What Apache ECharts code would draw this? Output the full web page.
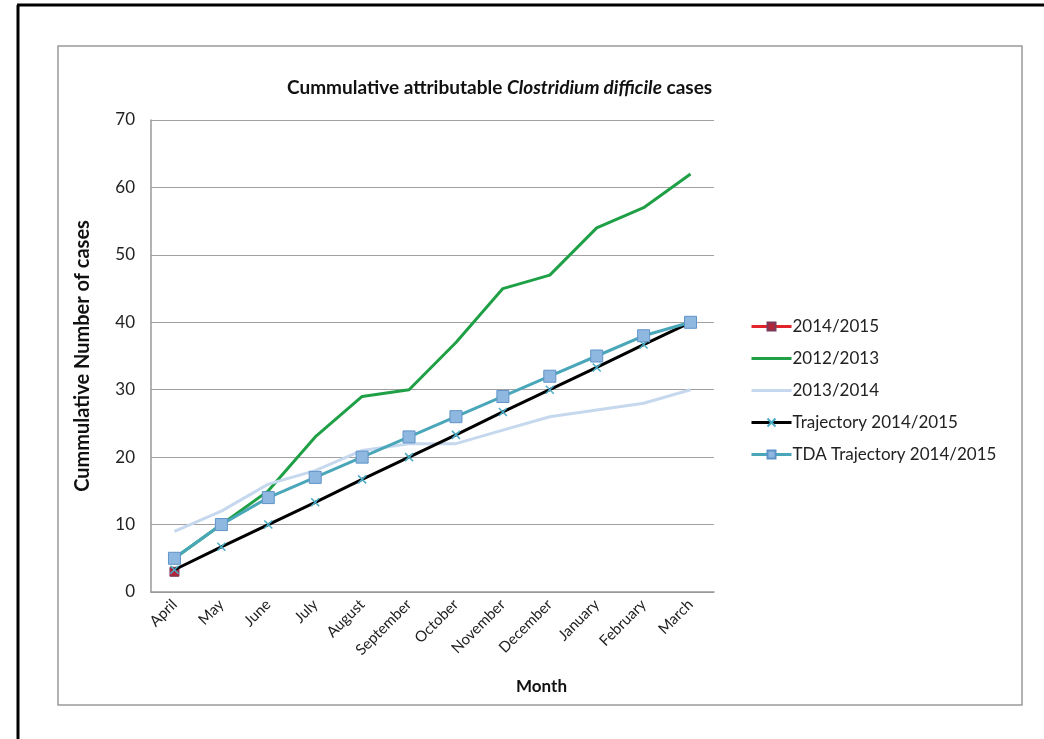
<!DOCTYPE html>
<html>
<head>
<meta charset="utf-8">
<title>Cummulative attributable Clostridium difficile cases</title>
<script src="https://cdn.jsdelivr.net/npm/echarts@6/dist/echarts.min.js"></script>
<style>
  html, body { margin: 0; padding: 0; background: #ffffff; }
  #chart { width: 1044px; height: 739px; }
</style>
</head>
<body>
<div id="chart"></div>
<script>
// Financial-year months
const months = ['April', 'May', 'June', 'July', 'August', 'September', 'October',
  'November', 'December', 'January', 'February', 'March'];

// Cumulative case counts per series
const cases2014_15 = [3, null, null, null, null, null, null, null, null, null, null, null];
const cases2012_13 = [5, 10, 15, 23, 29, 30, 37, 45, 47, 54, 57, 62];
const cases2013_14 = [9, 12, 16, 18, 21, 22, 22, 24, 26, 27, 28, 30];
const trajectory2014_15 = [3.3, 6.7, 10, 13.3, 16.7, 20, 23.3, 26.7, 30, 33.3, 36.7, 40];
const tdaTrajectory2014_15 = [5, 10, 14, 17, 20, 23, 26, 29, 32, 35, 38, 40];

// Value axis ticks
const yMin = 0, yMax = 70, yStep = 10;

const FONT = 'Lato, "Liberation Sans", sans-serif';
const chart = echarts.init(document.getElementById('chart'), null, { renderer: 'canvas' });

chart.setOption({
  backgroundColor: '#ffffff',
  animation: false,
  textStyle: { fontFamily: FONT },
  graphic: [
    // outer page frame
    { type: 'line', shape: { x1: 18, y1: 5, x2: 18, y2: 739 }, style: { stroke: '#000', lineWidth: 3 } },
    { type: 'line', shape: { x1: 17, y1: 5, x2: 1044, y2: 5 }, style: { stroke: '#000', lineWidth: 3 } },
    // chart area frame
    { type: 'rect', shape: { x: 58, y: 46, width: 964, height: 659 },
      style: { fill: 'none', stroke: '#9a9a9a', lineWidth: 1.5 } }
  ],
  title: {
    text: '{b|Cummulative attributable }{i|Clostridium difficile}{b| cases}',
    left: 282,
    top: 73,
    textStyle: {
      rich: {
        b: { fontFamily: FONT, fontSize: 19, fontWeight: 'bold', color: '#111' },
        i: { fontFamily: FONT, fontSize: 19, fontWeight: 'bold', fontStyle: 'italic', color: '#111' }
      }
    }
  },
  grid: { left: 151, right: 330, top: 120, bottom: 147, containLabel: false },
  legend: {
    orient: 'vertical',
    left: 745,
    top: 313,
    itemWidth: 40,
    itemHeight: 10,
    itemGap: 15,
    lineStyle: { width: 3 },
    textStyle: { fontFamily: FONT, fontSize: 17, color: '#222', padding: [0, 0, 0, -4] },
    data: [
      { name: '2014/2015' },
      { name: '2012/2013', itemStyle: { opacity: 0 } },
      { name: '2013/2014', itemStyle: { opacity: 0 } },
      { name: 'Trajectory 2014/2015' },
      { name: 'TDA Trajectory 2014/2015' }
    ]
  },
  xAxis: {
    type: 'category',
    data: months,
    boundaryGap: true,
    name: 'Month',
    nameLocation: 'middle',
    nameGap: 86,
    nameTextStyle: { fontFamily: FONT, fontSize: 17, fontWeight: 'bold', color: '#111', padding: [0, 0, 0, 218] },
    axisLine: { show: true, lineStyle: { color: '#999', width: 1.5 } },
    axisTick: { show: false },
    axisLabel: { rotate: 45, fontSize: 15, color: '#222', margin: 10, interval: 0 },
    splitLine: { show: false }
  },
  yAxis: {
    type: 'value',
    min: yMin,
    max: yMax,
    interval: yStep,
    name: 'Cummulative Number of cases',
    nameLocation: 'middle',
    nameGap: 58,
    nameTextStyle: { fontFamily: FONT, fontSize: 20, fontWeight: 'bold', color: '#111' },
    axisLine: { show: true, lineStyle: { color: '#999', width: 1.5 } },
    axisTick: { show: false },
    axisLabel: { fontSize: 17, color: '#222', margin: 16 },
    splitLine: { show: true, lineStyle: { color: '#a0a0a0', width: 1.2 } }
  },
  series: [
    {
      name: '2014/2015',
      type: 'line',
      data: cases2014_15,
      symbol: 'rect',
      symbolSize: 9,
      showAllSymbol: true,
      lineStyle: { color: '#e3232c', width: 3 },
      itemStyle: { color: '#b3243a', borderColor: '#7a3a5a', borderWidth: 1 },
      z: 2
    },
    {
      name: '2012/2013',
      type: 'line',
      data: cases2012_13,
      symbol: 'none',
      lineStyle: { color: '#20a046', width: 3 },
      itemStyle: { color: '#20a046' },
      z: 3
    },
    {
      name: '2013/2014',
      type: 'line',
      data: cases2013_14,
      symbol: 'none',
      lineStyle: { color: '#c6d8ee', width: 3 },
      itemStyle: { color: '#c6d8ee' },
      z: 4
    },
    {
      name: 'Trajectory 2014/2015',
      type: 'line',
      data: trajectory2014_15,
      symbol: 'path://M0,0L10,10M10,0L0,10',
      symbolSize: 8,
      showAllSymbol: true,
      lineStyle: { color: '#000000', width: 3 },
      itemStyle: { color: '#4bacc6', borderColor: '#4bacc6', borderWidth: 1.5 },
      z: 5
    },
    {
      name: 'TDA Trajectory 2014/2015',
      type: 'line',
      data: tdaTrajectory2014_15,
      symbol: 'rect',
      symbolSize: 12,
      showAllSymbol: true,
      lineStyle: { color: '#4aa7b9', width: 3 },
      itemStyle: { color: '#8fb8e0', borderColor: '#5f93c8', borderWidth: 1 },
      z: 6
    }
  ]
});
</script>
</body>
</html>
